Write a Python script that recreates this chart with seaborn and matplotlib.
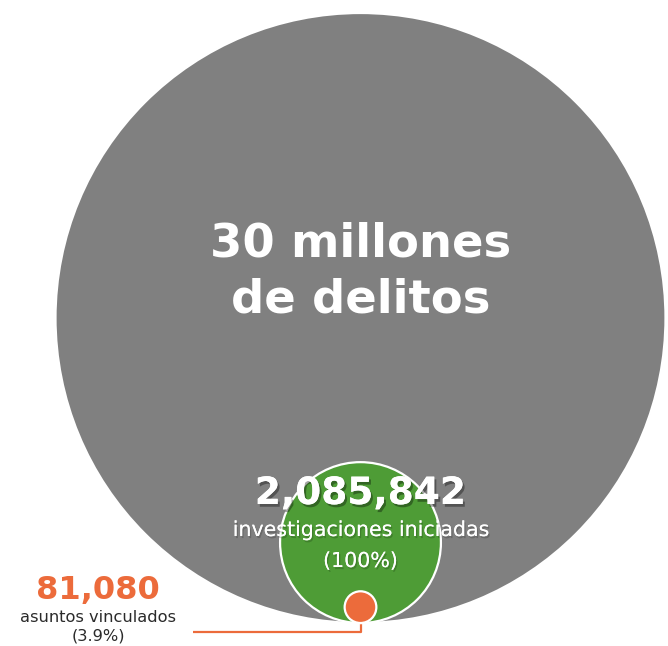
import matplotlib
matplotlib.use("Agg")
import matplotlib.pyplot as plt
import matplotlib.patheffects as pe
from matplotlib.patches import Circle
import seaborn as sns
import numpy as np

# Data
labels = ["delitos", "investigaciones iniciadas", "asuntos vinculados"]
values = [30_000_000, 2_085_842, 81_080]
colors = ["#808080", "#4e9c36", "#ec6b3b"]

sns.set_theme(style="white")
plt.rcParams['font.family'] = ['DejaVu Sans']

fig = plt.figure(figsize=(6.68, 6.46), dpi=100)
ax = fig.add_axes([0, 0, 1, 1])
ax.set_xlim(0, 668)
ax.set_ylim(646, 0)
ax.set_aspect('equal')
ax.axis('off')

R = 305.0
cx = 360.5
base_y = 623.0
radii = [R * np.sqrt(v / values[0]) for v in values]
for r, c in zip(radii, colors):
    ax.add_patch(Circle((cx, base_y - r), r, facecolor=c,
                        edgecolor="white", linewidth=1.6, zorder=2))

# leader line
ax.plot([cx, cx, 193], [base_y, 632, 632], color=colors[2], lw=1.6, zorder=1,
        solid_capstyle='butt')

shadow_big = [pe.withSimplePatchShadow(offset=(1.5, -2), shadow_rgbFace='black', alpha=0.35),
              pe.Normal()]
shadow_small = [pe.withSimplePatchShadow(offset=(1, -1.5), shadow_rgbFace='black', alpha=0.18),
                pe.Normal()]

ax.text(cx, 272, "30 millones\nde delitos", color="white", fontsize=33.5,
        fontweight="bold", ha="center", va="center", linespacing=1.3, zorder=5)

ax.text(cx, 494, f"{values[1]:,}", color="white", fontsize=27,
        fontweight="heavy", ha="center", va="center", zorder=5, path_effects=shadow_big)
ax.text(cx, 530, labels[1], color="white", fontsize=14.8,
        ha="center", va="center", zorder=5, path_effects=shadow_small)
ax.text(cx, 561, f"({values[1]/values[1]*100:.0f}%)", color="white", fontsize=14.8,
        ha="center", va="center", zorder=5, path_effects=shadow_small)

ax.text(98, 590, f"{values[2]:,}", color=colors[2], fontsize=23,
        fontweight="heavy", ha="center", va="center", zorder=5)
ax.text(98, 617, labels[2], color="#2a2a2a", fontsize=11.7,
        ha="center", va="center", zorder=5)
ax.text(98, 636, f"({values[2]/values[1]*100:.1f}%)", color="#2a2a2a", fontsize=11.7,
        ha="center", va="center", zorder=5)

fig.savefig("out.png", dpi=100, facecolor="white")
